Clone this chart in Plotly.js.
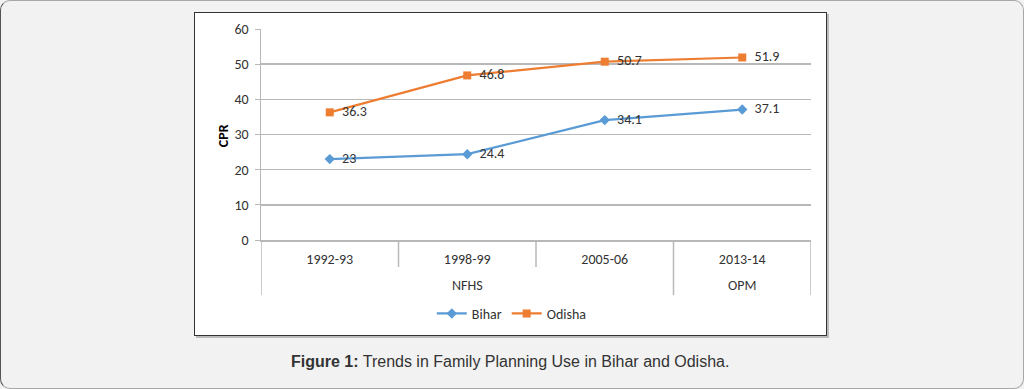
<!DOCTYPE html>
<html>
<head>
<meta charset="utf-8">
<script src="https://cdn.plot.ly/plotly-3.0.1.min.js"></script>
<style>
  html, body { margin:0; padding:0; background:#f2f2f2; }
  #frame { position:absolute; left:0; top:0; width:1022px; height:387px; border:1px solid #a8a8a8; border-left-color:#555; border-radius:10px; background:#f2f2f2; }
  #box { position:absolute; left:194px; top:12px; width:631px; height:322px; background:#fff; border:1px solid #333; box-shadow:2px 2px 0 #bbb; }
  #chart { position:absolute; left:0; top:0; width:1024px; height:389px; }
</style>
</head>
<body>
<div id="frame"></div>
<div id="box"></div>
<div id="chart"></div>
<script>
const categories = ['1992-93', '1998-99', '2005-06', '2013-14'];
const groups = ['NFHS', 'NFHS', 'NFHS', 'OPM'];
const groupLabels = ['NFHS', 'OPM'];
const groupCenters = ['1998-99', '2013-14'];
const bihar = [23, 24.4, 34.1, 37.1];
const odisha = [36.3, 46.8, 50.7, 51.9];
const yTitle = 'CPR';
const caption = '<b>Figure 1:</b> Trends in Family Planning Use in Bihar and Odisha.';

const fontFam = 'Carlito, Lato, sans-serif';
const grey = '#b8b8b8';
const txt = '#333333';

const traces = [
  { x: categories, y: bihar, name: 'Bihar', type: 'scatter', mode: 'lines+markers+text',
    text: bihar.map(v => '\u00a0\u00a0' + v), textposition: 'middle right',
    textfont: { family: fontFam, size: 14, color: txt },
    line: { color: '#5b9bd5', width: 2.2 },
    marker: { symbol: 'diamond', size: 8, color: '#5b9bd5' }, cliponaxis: false },
  { x: categories, y: odisha, name: 'Odisha', type: 'scatter', mode: 'lines+markers+text',
    text: odisha.map(v => '\u00a0\u00a0' + v), textposition: 'middle right',
    textfont: { family: fontFam, size: 14, color: txt },
    line: { color: '#ed7d31', width: 2.2 },
    marker: { symbol: 'square', size: 8, color: '#ed7d31' }, cliponaxis: false }
];

// divider lines between categories (short) and groups (long)
const shapes = [];
for (let i = 0; i <= categories.length; i++) {
  const isGroupEdge = (i === 0 || i === categories.length || groups[i] !== groups[i - 1]);
  shapes.push({ type: 'line', xref: 'x', yref: 'paper', x0: i - 0.5, x1: i - 0.5,
    y0: 0, y1: isGroupEdge ? -0.261 : -0.128, line: { color: grey, width: 1.5 } });
}

const annotations = groupLabels.map((g, k) => ({
  text: g, xref: 'x', yref: 'paper', x: groupCenters[k], y: -0.218,
  xanchor: 'center', yanchor: 'middle',
  showarrow: false, font: { family: fontFam, size: 14, color: txt }
}));
annotations.push({ text: '<b>' + yTitle + '</b>', xref: 'paper', yref: 'paper', x: -0.067, y: 0.493,
  xanchor: 'center', yanchor: 'middle',
  textangle: -90, showarrow: false, font: { family: fontFam, size: 14, color: '#000' } });
annotations.push({ text: caption,
  xref: 'paper', yref: 'paper', x: 0.453, y: -0.578, xanchor: 'center', yanchor: 'middle',
  showarrow: false,
  font: { family: 'Liberation Sans, Arial, sans-serif', size: 16, color: '#333' } });

const layout = {
  width: 1024, height: 389,
  margin: { l: 261, r: 213, t: 29, b: 149, pad: 0 },
  paper_bgcolor: 'rgba(0,0,0,0)', plot_bgcolor: 'rgba(0,0,0,0)',
  showlegend: true,
  legend: { orientation: 'h', x: 0.456, xanchor: 'center', y: -0.35, yanchor: 'middle',
    font: { family: fontFam, size: 14, color: txt }, bgcolor: 'rgba(0,0,0,0)' },
  xaxis: { type: 'category', categoryorder: 'array', categoryarray: categories,
    range: [-0.5, 3.5], showgrid: false, showline: true, linecolor: grey, linewidth: 1.5,
    ticks: '', ticklabelstandoff: 6, zeroline: false,
    tickfont: { family: fontFam, size: 14, color: txt } },
  yaxis: { range: [0, 60], dtick: 10, showgrid: true, gridcolor: grey, gridwidth: 1.5,
    showline: true, linecolor: grey, linewidth: 1.5, ticks: 'outside', ticklen: 5,
    tickcolor: grey, zeroline: false, ticklabelstandoff: 3,
    tickfont: { family: fontFam, size: 14, color: txt } },
  shapes: shapes,
  annotations: annotations
};

Plotly.newPlot('chart', traces, layout, { displayModeBar: false, staticPlot: true });
</script>
</body>
</html>
